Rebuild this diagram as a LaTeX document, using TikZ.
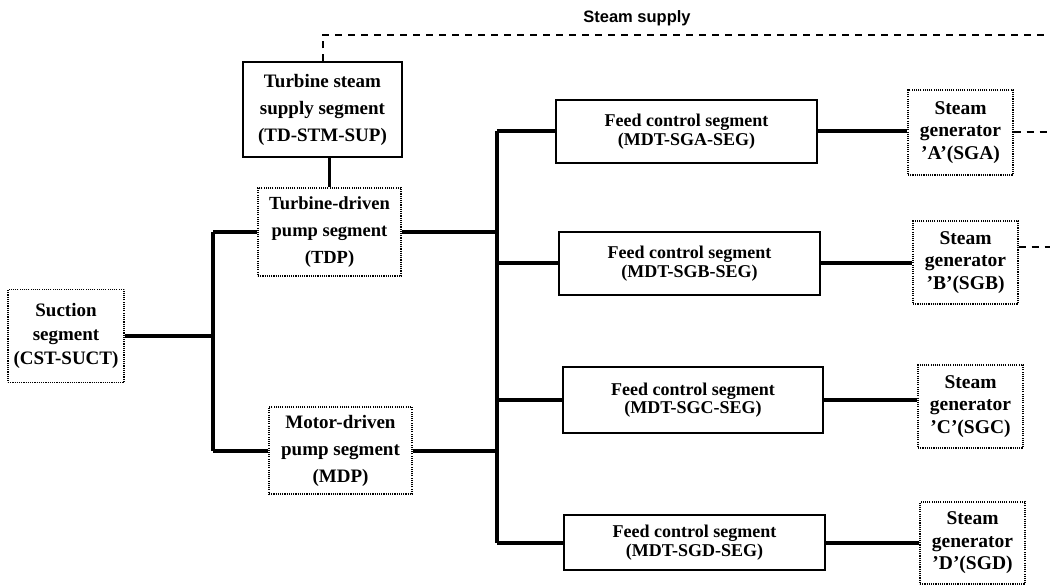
\documentclass[tikz,border=0pt]{standalone}
\usepackage{fontspec}
\setmainfont{Liberation Serif}
\newfontfamily\labelsans{Liberation Sans}
\begin{document}
\begin{tikzpicture}[x=1pt,y=-1pt,
  box/.style={draw, line width=1.3pt, align=center, inner sep=0pt, font=\bfseries},
  dbox/.style={box, dash pattern=on 1.1pt off 1.1pt},
  suctfont/.style={font=\bfseries\fontsize{19}{24}\selectfont},
  fs19w/.style={font=\bfseries\fontsize{19}{27}\selectfont},
  tdpfont/.style={font=\bfseries\fontsize{18.5}{27}\selectfont},
  feedfont/.style={font=\bfseries\fontsize{18}{18.5}\selectfont},
  sgfont/.style={font=\bfseries\fontsize{19.5}{22.5}\selectfont},
  thickline/.style={line width=4pt},
  thinline/.style={line width=2.2pt},
  dashline/.style={line width=2pt, dash pattern=on 7pt off 6pt}
]
\useasboundingbox (0,0) rectangle (1050,585);

% left part
\node[dbox, suctfont, minimum width=116pt, minimum height=93pt] (suct) at (66,336) {Suction\\segment\\(CST-SUCT)};
\node[box, fs19w, minimum width=159pt, minimum height=95pt] (tss) at (322.5,109.5) {Turbine steam\\supply segment\\(TD-STM-SUP)};
\node[dbox, tdpfont, minimum width=143pt, minimum height=88pt] (tdp) at (329.5,232) {Turbine-driven\\pump segment\\(TDP)};
\node[dbox, fs19w, minimum width=143pt, minimum height=87pt] (mdp) at (340.5,450.5) {Motor-driven\\pump segment\\(MDP)};

% feed control segments
\node[box, feedfont, minimum width=261pt, minimum height=63pt] (fa) at (686.5,131.5) {Feed control segment\\(MDT-SGA-SEG)};
\node[box, feedfont, minimum width=261pt, minimum height=63pt] (fb) at (689.5,263.5) {Feed control segment\\(MDT-SGB-SEG)};
\node[box, feedfont, minimum width=260pt, minimum height=66pt] (fc) at (693,400) {Feed control segment\\(MDT-SGC-SEG)};
\node[box, feedfont, minimum width=261pt, minimum height=55pt] (fd) at (694.5,542.5) {Feed control segment\\(MDT-SGD-SEG)};

% steam generators
\node[dbox, sgfont, minimum width=105pt, minimum height=85pt] (sga) at (960.5,132.5) {Steam\\generator\\'A'(SGA)};
\node[dbox, sgfont, minimum width=105pt, minimum height=83pt] (sgb) at (965.5,262.5) {Steam\\generator\\'B'(SGB)};
\node[dbox, sgfont, minimum width=105pt, minimum height=83pt] (sgc) at (970.5,406.5) {Steam\\generator\\'C'(SGC)};
\node[dbox, sgfont, minimum width=105pt, minimum height=82pt] (sgd) at (972.5,543) {Steam\\generator\\'D'(SGD)};

% bus coordinates
\coordinate (lbus) at (213,335);
\coordinate (rbus) at (497,300);
\coordinate (steamtop) at (322.5,35);
\coordinate (steamend) at (1050,35);
\coordinate (aend) at (1050,132);
\coordinate (bend) at (1050,247);

% left bus
\draw[thickline] (suct.east) -- (suct.east -| lbus);
\draw[thickline] (tdp.west -| lbus) -- (mdp.west -| lbus);
\draw[thickline] (tdp.west -| lbus) -- (tdp.west);
\draw[thickline] (mdp.west -| lbus) -- (mdp.west);

% right bus
\draw[thickline] (fa.west -| rbus) -- (fd.west -| rbus);
\draw[thickline] (tdp.east) -- (tdp.east -| rbus);
\draw[thickline] (mdp.east) -- (mdp.east -| rbus);
\draw[thickline] (fa.west -| rbus) -- (fa.west);
\draw[thickline] (fb.west -| rbus) -- (fb.west);
\draw[thickline] (fc.west -| rbus) -- (fc.west);
\draw[thickline] (fd.west -| rbus) -- (fd.west);

% feed to steam generators
\draw[thickline] (fa.east) -- (fa.east -| sga.west);
\draw[thickline] (fb.east) -- (fb.east -| sgb.west);
\draw[thickline] (fc.east) -- (fc.east -| sgc.west);
\draw[thickline] (fd.east) -- (fd.east -| sgd.west);

% turbine steam supply to TDP
\draw[thinline] (tdp.north) -- (tdp.north |- tss.south);

% steam supply dashed lines
\draw[dashline] (tss.north) -- (steamtop) -- (steamend);
\node[font=\labelsans\bfseries\fontsize{16.5}{20}\selectfont] (sslabel) at (637,18) {Steam supply};
\draw[dashline] (sga.east |- aend) -- (aend);
\draw[dashline] (sgb.east |- bend) -- (bend);
\end{tikzpicture}
\end{document}
